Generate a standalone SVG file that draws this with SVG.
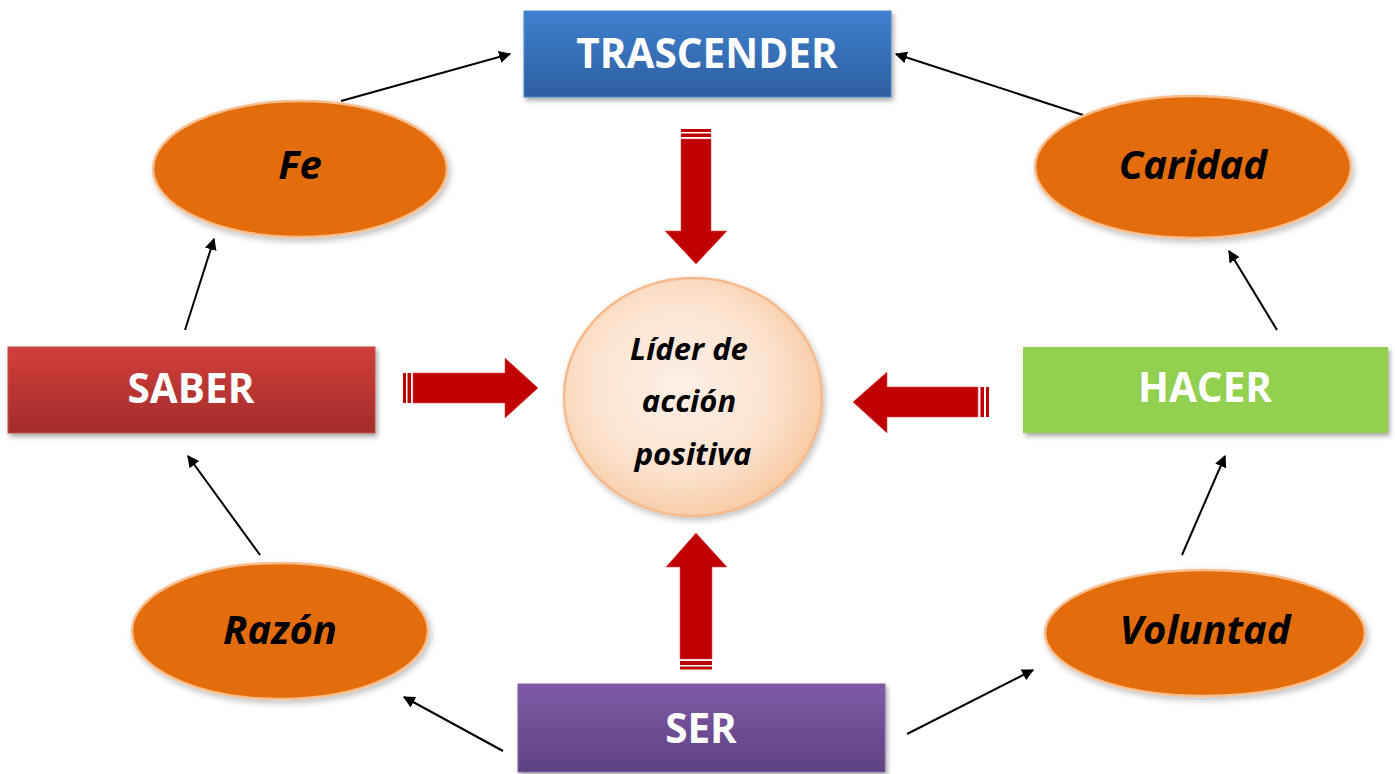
<svg xmlns="http://www.w3.org/2000/svg" width="1395" height="774" viewBox="0 0 1395 774">
<defs>
<linearGradient id="gBlue" x1="0" y1="0" x2="0" y2="1"><stop offset="0" stop-color="#3E80CF"/><stop offset="1" stop-color="#2E5F9F"/></linearGradient>
<linearGradient id="gRed" x1="0" y1="0" x2="0" y2="1"><stop offset="0" stop-color="#D13F3B"/><stop offset="1" stop-color="#A32C2A"/></linearGradient>
<linearGradient id="gPurple" x1="0" y1="0" x2="0" y2="1"><stop offset="0" stop-color="#7E5AA7"/><stop offset="1" stop-color="#5F4283"/></linearGradient>
<radialGradient id="gPeach" cx="0.45" cy="0.45" r="0.6"><stop offset="0" stop-color="#FDF0E6"/><stop offset="0.6" stop-color="#FCE3CF"/><stop offset="1" stop-color="#F8C79E"/></radialGradient>
<filter id="sh" x="-10%" y="-10%" width="125%" height="130%"><feDropShadow dx="2" dy="3" stdDeviation="2.5" flood-color="#000" flood-opacity="0.35"/></filter>
<filter id="shs" x="-10%" y="-10%" width="125%" height="130%"><feDropShadow dx="2" dy="3" stdDeviation="3" flood-color="#000" flood-opacity="0.25"/></filter>
<marker id="ah" viewBox="0 0 10 10" refX="9" refY="5" markerWidth="6" markerHeight="6" orient="auto" markerUnits="strokeWidth"><path d="M0,0 L10,5 L0,10 z" fill="#000"/></marker>
<style>
.box text,.ell text{font-family:"Open Sans","Liberation Sans",sans-serif;font-weight:bold;text-anchor:middle}
.box text{fill:#fff;font-size:40.5px}
.ell ellipse{fill:#E36C0A;stroke:#F9BE8E;stroke-width:2.5}
.ell text{fill:#000;font-style:italic;font-size:40px}
.thin{stroke:#000;stroke-width:2;fill:none;marker-end:url(#ah)}
.block{fill:#C00000;stroke:#E35050;stroke-width:0.6}
.stripe{fill:#C00000}
</style>
</defs>
<rect width="1395" height="774" fill="#fff"/>

<g id="connectors">
<line class="thin" x1="341" y1="101" x2="510" y2="54"/>
<line class="thin" x1="1083" y1="115" x2="896" y2="54"/>
<line class="thin" x1="185" y1="330" x2="214" y2="239"/>
<line class="thin" x1="260" y1="555" x2="188" y2="456"/>
<line class="thin" x1="503" y1="751" x2="404" y2="697"/>
<line class="thin" x1="907" y1="734" x2="1033" y2="670"/>
<line class="thin" x1="1182" y1="555" x2="1225" y2="456"/>
<line class="thin" x1="1277" y1="330" x2="1229" y2="251"/>
<g id="arrow-down">
<rect class="stripe" x="681" y="129" width="30" height="3"/>
<rect class="stripe" x="681" y="133.5" width="30" height="3.5"/>
<path class="block" d="M681,139 L711,139 L711,231 L727,231 L696,264 L665,231 L681,231 Z"/>
</g>
<g id="arrow-right">
<rect class="stripe" x="403" y="373" width="3" height="30"/>
<rect class="stripe" x="407.5" y="373" width="3.5" height="30"/>
<path class="block" d="M413,373 L505,373 L505,358 L538,388 L505,418 L505,403 L413,403 Z"/>
</g>
<g id="arrow-left">
<rect class="stripe" x="986" y="387" width="3" height="30"/>
<rect class="stripe" x="980.5" y="387" width="3.5" height="30"/>
<path class="block" d="M978,387 L887,387 L887,372 L853,402 L887,433 L887,417 L978,417 Z"/>
</g>
<g id="arrow-up">
<rect class="stripe" x="680" y="666.5" width="32" height="3"/>
<rect class="stripe" x="680" y="661" width="32" height="4"/>
<path class="block" d="M680,659 L712,659 L712,567 L727,567 L696,533 L666,567 L680,567 Z"/>
</g>
</g>

<g id="trascender" class="box">
<rect x="524" y="11" width="367" height="86" fill="url(#gBlue)" stroke="#4A86C8" stroke-width="1" filter="url(#sh)"/>
<text x="707" y="68">TRASCENDER</text>
</g>
<g id="saber" class="box">
<rect x="8" y="347" width="367" height="86" fill="url(#gRed)" stroke="#C0504D" stroke-width="1" filter="url(#sh)"/>
<text x="191" y="403">SABER</text>
</g>
<g id="hacer" class="box">
<rect x="1023" y="347" width="365" height="86" fill="#92D050" filter="url(#sh)"/>
<text x="1205" y="402">HACER</text>
</g>
<g id="ser" class="box">
<rect x="518" y="684" width="367" height="88" fill="url(#gPurple)" stroke="#8064A2" stroke-width="1" filter="url(#sh)"/>
<text x="701" y="743">SER</text>
</g>

<g id="fe" class="ell">
<ellipse cx="300" cy="169" rx="147" ry="68" filter="url(#shs)"/>
<text x="300" y="179">Fe</text>
</g>
<g id="caridad" class="ell">
<ellipse cx="1193" cy="167" rx="158" ry="71" filter="url(#shs)"/>
<text x="1193" y="179">Caridad</text>
</g>
<g id="razon" class="ell">
<ellipse cx="280" cy="631" rx="148" ry="68" filter="url(#shs)"/>
<text x="280" y="644">Razón</text>
</g>
<g id="voluntad" class="ell">
<ellipse cx="1205" cy="633" rx="160" ry="63" filter="url(#shs)"/>
<text x="1205" y="644">Voluntad</text>
</g>

<g id="lider">
<ellipse cx="693" cy="397" rx="129" ry="119" fill="url(#gPeach)" stroke="#F8B98A" stroke-width="2.5" filter="url(#shs)"/>
<text font-family="Open Sans, Liberation Sans, sans-serif" font-weight="bold" font-style="italic" font-size="31" text-anchor="middle" fill="#000">
<tspan x="693" y="360">Líder de</tspan>
<tspan x="693" y="412">acción</tspan>
<tspan x="693" y="465">positiva</tspan>
</text>
</g>
</svg>
